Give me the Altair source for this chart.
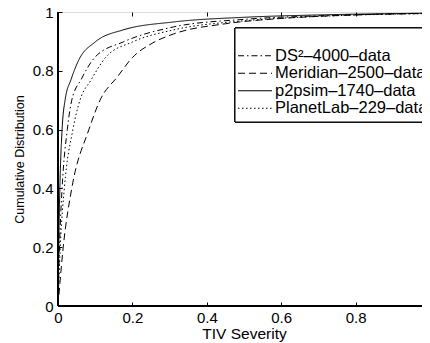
import altair as alt
import pandas as pd

series = ["DS2-4000-data", "Meridian-2500-data", "p2psim-1740-data", "PlanetLab-229-data"]
legend_labels = ["DS²–4000–data", "Meridian–2500–data", "p2psim–1740–data", "PlanetLab–229–data"]

ds2_x = [0, 0.004, 0.011, 0.025, 0.037, 0.062, 0.10, 0.175, 0.31, 0.5, 0.7, 1.0]
ds2_y = [0, 0.2, 0.4, 0.6, 0.7, 0.77, 0.847, 0.898, 0.949, 0.975, 0.987, 0.995]

meridian_x = [0, 0.014, 0.037, 0.083, 0.113, 0.16, 0.2, 0.255, 0.31, 0.45, 0.6, 0.8, 1.0]
meridian_y = [0, 0.2, 0.4, 0.6, 0.7, 0.78, 0.845, 0.895, 0.925, 0.96, 0.978, 0.99, 0.996]

p2psim_x = [0, 0.002, 0.005, 0.011, 0.019, 0.035, 0.056, 0.10, 0.175, 0.31, 0.5, 0.7, 1.0]
p2psim_y = [0, 0.2, 0.4, 0.6, 0.7, 0.77, 0.837, 0.898, 0.939, 0.966, 0.982, 0.99, 0.996]

planetlab_x = [0, 0.006, 0.017, 0.04, 0.059, 0.089, 0.129, 0.2, 0.31, 0.5, 0.7, 1.0]
planetlab_y = [0, 0.2, 0.4, 0.6, 0.7, 0.769, 0.847, 0.898, 0.939, 0.97, 0.985, 0.995]

x_ticks = [0, 0.2, 0.4, 0.6, 0.8, 1]
y_ticks = [0, 0.2, 0.4, 0.6, 0.8, 1]

dashes = [[6, 3, 1.5, 3], [7, 4], [1, 0], [1.5, 2.5]]

rows = []
for name, xs, ys in zip(series,
                        [ds2_x, meridian_x, p2psim_x, planetlab_x],
                        [ds2_y, meridian_y, p2psim_y, planetlab_y]):
    for i, (a, b) in enumerate(zip(xs, ys)):
        rows.append({"series": name, "x": a, "y": b, "order": i})
df = pd.DataFrame(rows)
leg = pd.DataFrame({"series": series, "label": legend_labels})

W, H = 372, 294
FONT = "Liberation Sans"

dash_scale = alt.Scale(domain=series, range=dashes)
xs = alt.Scale(domain=[0, 1], nice=False, zero=False)
ys = alt.Scale(domain=[0, 1], nice=False, zero=False)

lines = alt.Chart(df).mark_line(color="black", strokeWidth=1, interpolate="monotone").encode(
    x=alt.X("x:Q", scale=xs, axis=alt.Axis(
        values=x_ticks, format="~g", title="TIV Severity", domain=False, grid=False,
        offset=-4, tickSize=4, tickColor="black", labelPadding=4, labelFontSize=15,
        labelColor="black", labelFont=FONT, titleFont=FONT, titleFontSize=15.5,
        titleFontWeight="normal", titleColor="black", titlePadding=1, labelFlush=False)),
    y=alt.Y("y:Q", scale=ys, axis=alt.Axis(
        values=y_ticks, format="~g", title="Cumulative Distribution", domain=False, grid=False,
        offset=-4, tickSize=4, tickColor="black", labelPadding=5, labelFontSize=15,
        labelColor="black", labelFont=FONT, titleFont=FONT, titleFontSize=12.5,
        titleFontWeight="normal", titleColor="black", titlePadding=6, labelFlush=False)),
    strokeDash=alt.StrokeDash("series:N", scale=dash_scale, legend=None),
    detail="series:N",
    order="order:Q",
)

ticks2 = alt.Chart(df).mark_point(opacity=0).encode(
    x=alt.X("x:Q", scale=xs, axis=alt.Axis(
        orient="top", values=x_ticks, labels=False, title=None, domain=False, grid=False,
        offset=-4, tickSize=4, tickColor="black")),
    y=alt.Y("y:Q", scale=ys, axis=alt.Axis(
        orient="right", values=y_ticks, labels=False, title=None, domain=False, grid=False,
        offset=-4, tickSize=4, tickColor="black")),
)

left_line = alt.Chart(leg).mark_rule(color="black", strokeWidth=2).encode(
    x=alt.value(0), y=alt.value(0), y2=alt.value(H))
bottom_line = alt.Chart(leg).mark_rule(color="black", strokeWidth=2).encode(
    x=alt.value(0), x2=alt.value(W), y=alt.value(H))

leg_box = alt.Chart(leg).mark_rect(fill="white", stroke="black", strokeWidth=1).encode(
    x=alt.value(177), x2=alt.value(W - 1), y=alt.value(16), y2=alt.value(110))

ly = alt.Y("series:N", sort=series, scale=alt.Scale(range=[35, 105], padding=0), axis=None)
leg_lines = alt.Chart(leg).mark_rule(color="black", strokeWidth=1).encode(
    x=alt.value(180), x2=alt.value(214), y=ly,
    strokeDash=alt.StrokeDash("series:N", scale=dash_scale, legend=None))
leg_text = alt.Chart(leg).mark_text(align="left", baseline="middle", font=FONT,
                                    fontSize=16.5, color="black").encode(
    x=alt.value(217), y=ly, text="label:N")

legend = alt.layer(leg_box, leg_lines, leg_text)

chart = alt.layer(lines, ticks2, left_line, bottom_line, legend).resolve_scale(
    y="independent", strokeDash="shared").resolve_axis(x="independent", y="independent").properties(
    width=W, height=H,
    autosize=alt.AutoSizeParams(type="none"),
    padding={"left": 50, "top": 4, "right": -8, "bottom": 37},
).configure_view(stroke="black", strokeWidth=1).configure(background="white")

chart.save("out.html", embed_options={"renderer": "svg", "actions": False})
